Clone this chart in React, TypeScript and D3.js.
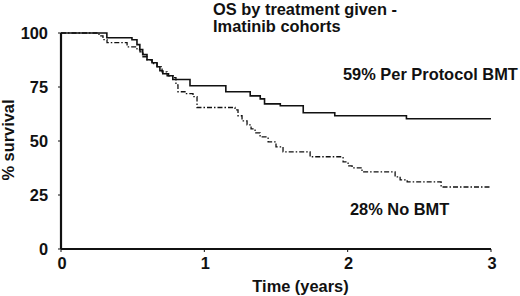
import React from "react";
import * as d3 from "d3";

const bmtTime = [0, 0.32, 0.495, 0.53, 0.55, 0.57, 0.6, 0.635, 0.67, 0.69, 0.71, 0.75, 0.78, 0.9, 1.15, 1.32, 1.39, 1.42, 1.53, 1.69, 1.91, 2.41, 3.0];
const bmtSurv = [100, 97.8, 96.9, 94.6, 92.3, 90, 87.6, 86.2, 84.4, 82.5, 81.1, 80.2, 78.5, 75.6, 72.8, 70.9, 69.5, 67.2, 66.3, 63.1, 61.7, 60.3, 60.3];

const noBmtTime = [0, 0.265, 0.293, 0.321, 0.461, 0.53, 0.551, 0.572, 0.6, 0.635, 0.67, 0.705, 0.74, 0.782, 0.802, 0.816, 0.865, 0.921, 0.949, 1.214, 1.235, 1.263, 1.298, 1.326, 1.354, 1.389, 1.445, 1.5, 1.549, 1.738, 1.968, 2.003, 2.031, 2.1, 2.331, 2.366, 2.415, 2.652, 3.0];
const noBmtSurv = [100, 98.7, 96.9, 95.5, 93.6, 92.3, 91.3, 89, 87.6, 85.8, 84.4, 82, 80.2, 79.3, 76, 72.8, 71.9, 70.5, 65.5, 64.4, 61.7, 59.3, 57.5, 55.6, 53.8, 51.9, 49.6, 47.3, 45, 42.7, 40.3, 38.5, 37.6, 35.7, 33.4, 32, 31.1, 28.7, 28.7];

const xTicks = [0, 1, 2, 3];
const yTicks = [0, 25, 50, 75, 100];
const titleLines = ["OS by treatment given -", "Imatinib cohorts"];
const bmtLabel = "59% Per Protocol BMT";
const noBmtLabel = "28% No BMT";
const xTitle = "Time (years)";
const yTitle = "% survival";

export default function App() {
  const W = 520, H = 296;
  const fs = 16.4;
  const x = d3.scaleLinear().domain([0, 3]).range([61, 491]);
  const y = d3.scaleLinear().domain([0, 100]).range([249, 33]);
  const line = d3
    .line<[number, number]>()
    .x((d) => x(d[0]))
    .y((d) => y(d[1]))
    .curve(d3.curveStepAfter);
  const bmt = bmtTime.map((t, i) => [t, bmtSurv[i]] as [number, number]);
  const nob = noBmtTime.map((t, i) => [t, noBmtSurv[i]] as [number, number]);
  const font = "'Liberation Sans', Arial, sans-serif";
  return (
    <svg
      width={W}
      height={H}
      style={{ position: "absolute", left: 0, top: 0, background: "#fff" }}
      fontFamily={font}
    >
      <rect width={W} height={H} fill="#fff" />
      {titleLines.map((t, i) => (
        <text key={t} x={213} y={15 + i * 17} fontSize={fs} fontWeight="bold" fill="#111">
          {t}
        </text>
      ))}
      <path d={line(nob) || ""} fill="none" stroke="#111" strokeWidth={1.3} strokeDasharray="5,2,1.5,2" />
      <path d={line(bmt) || ""} fill="none" stroke="#111" strokeWidth={1.6} />
      <line x1={x(0)} x2={x(0)} y1={y(100)} y2={y(0)} stroke="#111" strokeWidth={2.2} />
      <line x1={x(0)} x2={x(3)} y1={y(0)} y2={y(0)} stroke="#111" strokeWidth={2} />
      {yTicks.map((v) => (
        <g key={v}>
          <line x1={x(0) - 3} x2={x(0)} y1={y(v)} y2={y(v)} stroke="#111" strokeWidth={1} />
          <text x={48} y={y(v) + 5.5} textAnchor="end" fontSize={fs} fontWeight="bold" fill="#111">
            {v}
          </text>
        </g>
      ))}
      {xTicks.map((v) => (
        <g key={v}>
          <line x1={x(v)} x2={x(v)} y1={y(0)} y2={y(0) + 3} stroke="#111" strokeWidth={1} />
          <text x={x(v) + 1} y={269} textAnchor="middle" fontSize={fs} fontWeight="bold" fill="#111">
            {v}
          </text>
        </g>
      ))}
      <text x={300.5} y={292} textAnchor="middle" fontSize={fs} fontWeight="bold" fill="#111">
        {xTitle}
      </text>
      <text
        transform={`translate(13.5,140) rotate(-90)`}
        textAnchor="middle"
        fontSize={fs}
        fontWeight="bold"
        fill="#111"
      >
        {yTitle}
      </text>
      <text x={343} y={80} fontSize={fs} fontWeight="bold" fill="#111">
        {bmtLabel}
      </text>
      <text x={350} y={215} fontSize={fs} fontWeight="bold" fill="#111">
        {noBmtLabel}
      </text>
    </svg>
  );
}
